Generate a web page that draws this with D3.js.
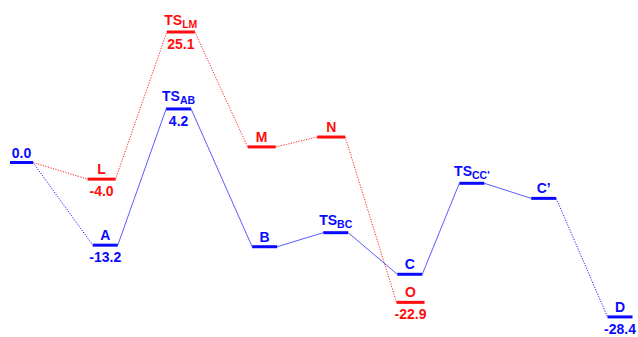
<!DOCTYPE html>
<html>
<head>
<meta charset="utf-8">
<script src="https://cdn.jsdelivr.net/npm/d3@7"></script>
<style>
    body { margin: 0; background: #fff; }
    text { font-family: "Liberation Sans", Arial, sans-serif; font-weight: bold; }
</style>
</head>
<body>
<svg id="chart"></svg>
<script>
// Shared starting level
const startName = '0.0';
const startPos = 0;
const startEnergy = 0;

// Blue pathway (schematic energies, printed values as text)
const blueNames = ['A', 'TS_AB', 'B', 'TS_BC', 'C', "TS_CC'", 'C\u2019', 'D'];
const blueValues = ['-13.2', '4.2', '', '', '', '', '', '-28.4'];
const bluePos = [1.12, 2.1, 3.25, 4.2, 5.19, 6.02, 6.98, 8];
const blueEnergy = [-15.9, 10.3, -16.2, -13.5, -21.5, -4.0, -6.9, -29.7];
const blueDotted = [true, false, false, false, false, false, false, true];

// Red pathway
const redNames = ['L', 'TS_LM', 'M', 'N', 'O'];
const redValues = ['-4.0', '25.1', '', '', '-22.9'];
const redPos = [1.07, 2.13, 3.21, 4.14, 5.2];
const redEnergy = [-3.2, 25.1, 3.0, 4.9, -26.9];

const width = 638;
const height = 337;
const BLUE = '#0a0aff';
const RED = '#ff0d0d';

const svg = d3.select('#chart')
    .attr('width', width)
    .attr('height', height);

const x = d3.scaleLinear().domain([0, 8]).range([21.5, 620]);
const y = d3.scaleLinear().domain([0, 25.1]).range([162.5, 32]);

function buildLevels(names, values, pos, energy)
{
    return names.map((n, i) => ({ name: n, value: values[i], pos: pos[i], energy: energy[i] }));
}

const start = { name: startName, value: '', pos: startPos, energy: startEnergy };
const blueLevels = [start, ...buildLevels(blueNames, blueValues, bluePos, blueEnergy)];
const redLevels = buildLevels(redNames, redValues, redPos, redEnergy);

function drawConnectors(levels, color, halfW, dottedFn)
{
    for (let i = 1; i < levels.length; i += 1)
    {
        const a = levels[i - 1];
        const b = levels[i];
        const hwA = a === start ? 11.5 : halfW;
        const dotted = dottedFn(i - 1);
        svg.append('line')
            .attr('x1', x(a.pos) + hwA)
            .attr('y1', y(a.energy))
            .attr('x2', x(b.pos) - halfW)
            .attr('y2', y(b.energy))
            .attr('stroke', color)
            .attr('stroke-width', dotted ? 1 : 0.9)
            .attr('stroke-opacity', dotted ? 0.9 : 0.75)
            .attr('stroke-dasharray', dotted ? '1.2,1.4' : null);
    }
}

function drawLabel(g, name, cx, baseline, color)
{
    const parts = name.split('_');
    const t = g.append('text')
        .attr('x', cx)
        .attr('y', baseline)
        .attr('text-anchor', 'middle')
        .attr('fill', color)
        .attr('font-size', 14);
    t.append('tspan').text(parts[0]);
    if (parts[1])
    {
        t.append('tspan')
            .attr('font-size', 10.5)
            .attr('dy', 3)
            .text(parts[1]);
    }
}

function drawLevels(levels, color, halfW)
{
    const g = svg.append('g');
    levels.forEach((d) =>
    {
        const hw = d === start ? 11.5 : halfW;
        const cx = x(d.pos);
        const cy = y(d.energy);
        g.append('line')
            .attr('x1', cx - hw)
            .attr('x2', cx + hw)
            .attr('y1', cy)
            .attr('y2', cy)
            .attr('stroke', color)
            .attr('stroke-width', 3);
        drawLabel(g, d.name, cx, cy - (d.name.includes('_') ? 7.5 : 5), color);
        if (d.value)
        {
            g.append('text')
                .attr('x', cx)
                .attr('y', cy + 17)
                .attr('text-anchor', 'middle')
                .attr('fill', color)
                .attr('font-size', 14)
                .text(d.value);
        }
    });
}

drawConnectors([start, ...redLevels], RED, 14, () => true);
drawConnectors(blueLevels, BLUE, 12.5, (i) => blueDotted[i]);
drawLevels(redLevels, RED, 14);
drawLevels(blueLevels, BLUE, 12.5);
</script>
</body>
</html>
